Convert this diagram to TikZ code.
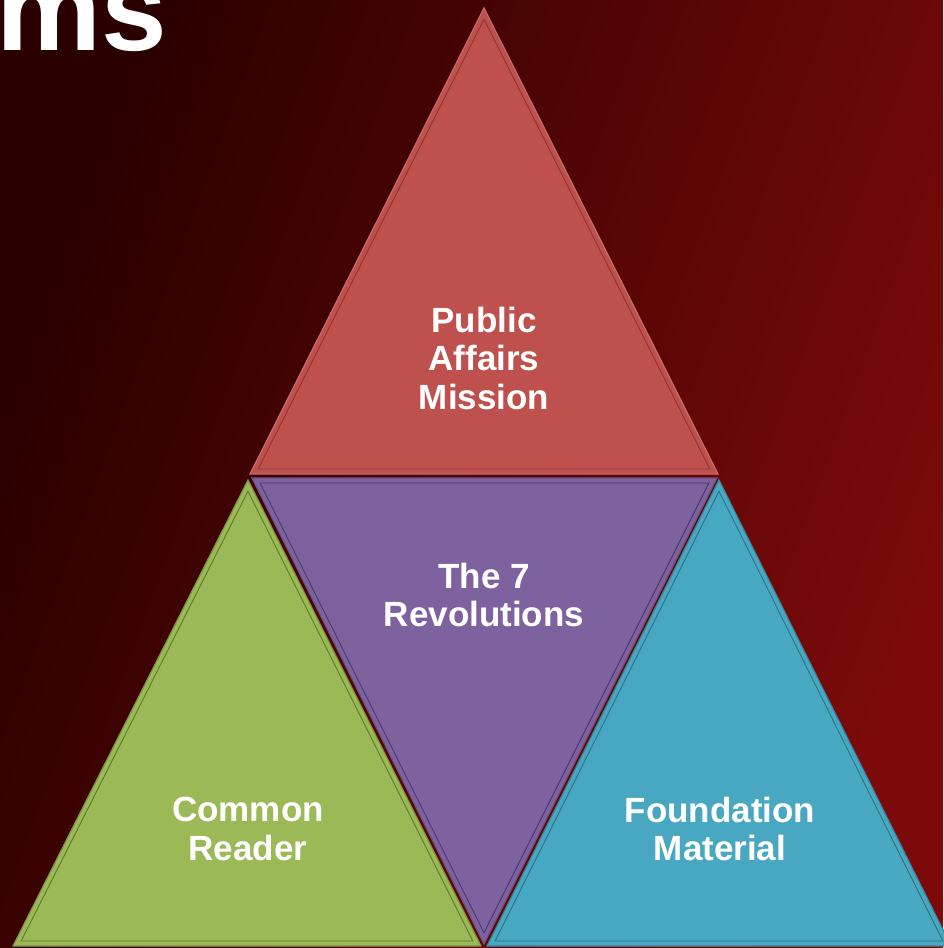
\documentclass[tikz,border=0pt]{standalone}
\usepackage{fontspec}
\setmainfont{Liberation Sans}
\usetikzlibrary{calc}
\definecolor{bgL}{HTML}{2A0000}
\definecolor{bgR}{HTML}{7C0A0A}
\definecolor{redF}{HTML}{BE504E}
\definecolor{redL}{HTML}{8E3533}
\definecolor{purF}{HTML}{7E62A0}
\definecolor{purL}{HTML}{4E3A6C}
\definecolor{grnF}{HTML}{9BB957}
\definecolor{grnL}{HTML}{5E7A2A}
\definecolor{bluF}{HTML}{48A8C2}
\definecolor{bluL}{HTML}{2A7387}
\tikzstyle{tri} = [line width=1.2pt]
\tikzstyle{inner} = [line width=0.9pt]
\tikzstyle{label} = [text=white, align=center, inner sep=0pt, font=\fontsize{35}{38.5}\selectfont\bfseries]

\begin{document}
\begin{tikzpicture}[x=1pt, y=-1pt]
  \shade[left color=bgL, right color=bgR, shading angle=70] (0,0) rectangle (943,948);
  \useasboundingbox (0,0) rectangle (943,948);

  \node[text=white, inner sep=0pt, anchor=base east, font=\fontsize{118}{118}\selectfont\bfseries] (title) at (167,50) {ms};

  % corners
  \coordinate (rTop) at (484,8);
  \coordinate (rL) at (250,474);
  \coordinate (rR) at (718,474);
  \coordinate (rC) at (484,330);
  \coordinate (pL) at (252,478);
  \coordinate (pR) at (717,478);
  \coordinate (pBot) at (484,944);
  \coordinate (pC) at (484,622);
  \coordinate (gTop) at (248,480);
  \coordinate (gL) at (13,946);
  \coordinate (gR) at (481,946);
  \coordinate (gC) at (247,802);
  \coordinate (bTop) at (719,480);
  \coordinate (bL) at (487,946);
  \coordinate (bR) at (951,946);
  \coordinate (bC) at (719,802);

  \fill[tri, redF, draw=redF!85!white] (rTop) -- (rL) -- (rR) -- cycle;
  \draw[inner, redL] ($(rC)!0.965!(rTop)$) -- ($(rC)!0.965!(rL)$) -- ($(rC)!0.965!(rR)$) -- cycle;

  \fill[tri, purF, draw=purF!85!black] (pL) -- (pR) -- (pBot) -- cycle;
  \draw[inner, purL] ($(pC)!0.965!(pL)$) -- ($(pC)!0.965!(pR)$) -- ($(pC)!0.965!(pBot)$) -- cycle;

  \fill[tri, grnF, draw=grnF!80!black] (gTop) -- (gL) -- (gR) -- cycle;
  \draw[inner, grnL] ($(gC)!0.965!(gTop)$) -- ($(gC)!0.965!(gL)$) -- ($(gC)!0.965!(gR)$) -- cycle;

  \fill[tri, bluF, draw=bluF!80!black] (bTop) -- (bL) -- (bR) -- cycle;
  \draw[inner, bluL] ($(bC)!0.965!(bTop)$) -- ($(bC)!0.965!(bL)$) -- ($(bC)!0.965!(bR)$) -- cycle;

  \node[label] (mission) at (484,358) {Public\\Affairs\\Mission};
  \node[label] (revol) at (484,595) {The 7\\Revolutions};
  \node[label] (reader) at (248,829) {Common\\Reader};
  \node[label] (found) at (720,829) {Foundation\\Material};
\end{tikzpicture}
\end{document}
